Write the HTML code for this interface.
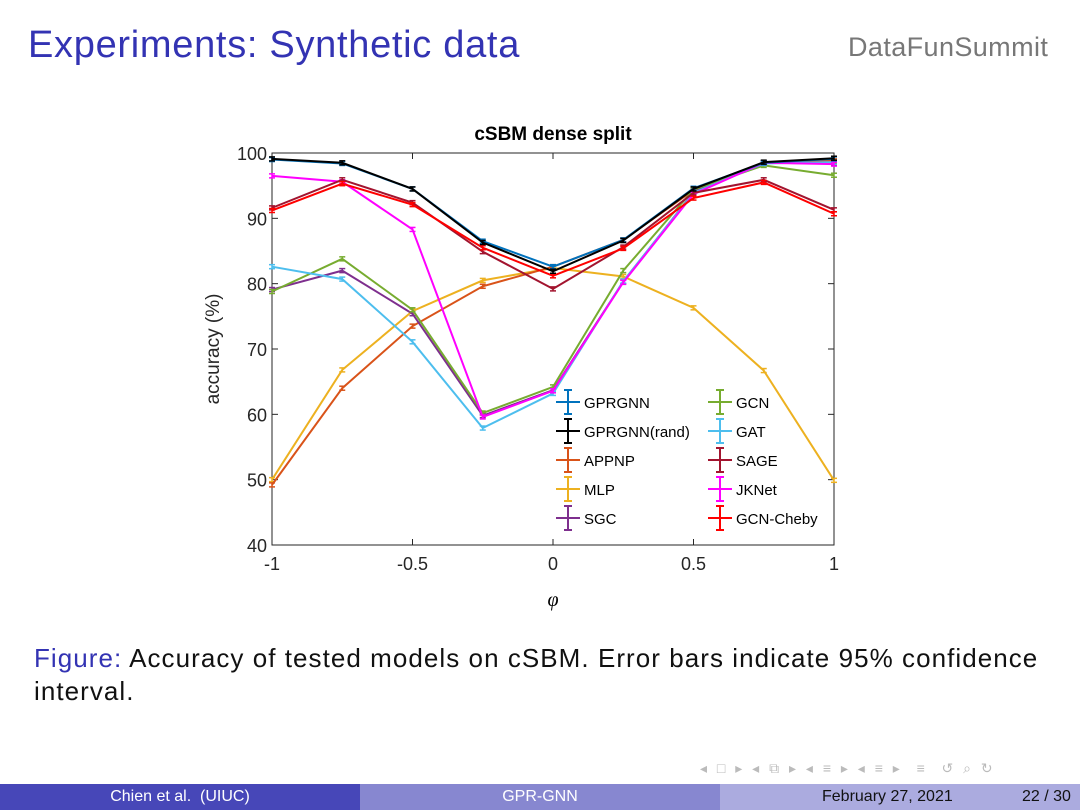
<!DOCTYPE html>
<html><head><meta charset="utf-8"><style>
body{margin:0;width:1080px;height:810px;background:#fff;position:relative;overflow:hidden;font-family:"Liberation Sans","DejaVu Sans",sans-serif}
.abs{position:absolute}
</style></head><body>
<div class="abs" style="left:28px;top:24px;font-size:38px;color:#3333b3;letter-spacing:0.7px;">Experiments: Synthetic data</div>
<div class="abs" style="left:848px;top:32px;font-size:27px;color:#777;letter-spacing:0.4px;">DataFunSummit</div>
<svg class="abs" style="left:0;top:0" width="1080" height="780" id="chart">
<text x="553" y="140" text-anchor="middle" font-weight="bold" font-size="19">cSBM dense split</text>
<text transform="translate(219,349) rotate(-90)" text-anchor="middle" font-size="19" fill="#262626">accuracy (%)</text>
<text x="553" y="606" text-anchor="middle" font-size="20" font-style="italic" font-family="Liberation Serif,serif">φ</text>
</svg>
<div class="abs" style="left:34px;top:642px;font-size:26px;line-height:33px;color:#111;width:1046px;letter-spacing:1.05px;"><span style="color:#3333b3">Figure:</span> Accuracy of tested models on cSBM. Error bars indicate 95% confidence<br>interval.</div>
<div class="abs" style="left:700px;top:760px;font-size:14px;color:#bbb;letter-spacing:3px;">◂ □ ▸ ◂ ⧉ ▸ ◂ ≡ ▸ ◂ ≡ ▸ &nbsp;≡ &nbsp;↺ ⌕ ↻</div>
<div class="abs" style="left:0;top:784px;width:360px;height:26px;background:#4747b8;color:#fff;font-size:16px;text-align:center;line-height:26px;">Chien et al. &nbsp;(UIUC)</div>
<div class="abs" style="left:360px;top:784px;width:360px;height:26px;background:#8787d0;color:#fff;font-size:16px;text-align:center;line-height:26px;">GPR-GNN</div>
<div class="abs" style="left:720px;top:784px;width:360px;height:26px;background:#ababdf;color:#111;font-size:16px;line-height:26px;"><span style="position:absolute;left:102px">February 27, 2021</span><span style="position:absolute;left:302px">22 / 30</span></div>
<script>
const xs=[-1,-0.75,-0.5,-0.25,0,0.25,0.5,0.75,1];
const xTicks=[-1,-0.5,0,0.5,1];
const xTickLabels=["-1","-0.5","0","0.5","1"];
const yTicks=[40,50,60,70,80,90,100];
const seriesNames=["GPRGNN","GPRGNN(rand)","APPNP","MLP","SGC","GCN","GAT","SAGE","JKNet","GCN-Cheby"];
const gprgnn=[99.0,98.4,94.5,86.5,82.6,86.7,94.6,98.5,99.1];
const gprgnnRand=[99.1,98.5,94.5,86.3,81.9,86.6,94.5,98.6,99.2];
const appnp=[49.2,64.0,73.5,79.6,82.6,86.7,94.3,98.5,98.8];
const mlp=[50.0,66.8,75.8,80.5,82.4,81.1,76.3,66.7,49.9];
const sgc=[79.1,82.0,75.4,59.8,63.7,80.3,94.0,98.5,98.4];
const gcn=[78.8,83.8,76.0,60.2,64.2,82.0,94.4,98.1,96.6];
const gat=[82.6,80.7,71.1,57.9,63.2,80.4,93.9,98.4,98.6];
const sage=[91.6,95.9,92.4,84.9,79.2,85.6,93.9,95.9,91.3];
const jknet=[96.5,95.6,88.3,59.6,63.6,80.2,93.7,98.5,98.3];
const cheby=[91.2,95.3,92.1,85.5,81.2,85.4,93.1,95.5,90.7];
const seriesData=[gprgnn,gprgnnRand,appnp,mlp,sgc,gcn,gat,sage,jknet,cheby];
const colors=["#0072BD","#000000","#D95319","#EDB120","#7E2F8E","#77AC30","#4DBEEE","#A2142F","#FF00FF","#FF0000"];
const drawOrder=[3,2,4,5,6,8,7,9,0,1];
const L=272,R=834,T=153,B=545;
const xS=v=>L+(v+1)/2*(R-L);
const yS=v=>B-(v-40)/60*(B-T);
const svg=document.getElementById('chart');
const NS="http://www.w3.org/2000/svg";
function mk(t,a){const e=document.createElementNS(NS,t);for(const k in a)e.setAttribute(k,a[k]);svg.appendChild(e);return e;}
const box=mk('rect',{x:L,y:T,width:R-L,height:B-T,fill:'none',stroke:'#262626','stroke-width':1});


xTicks.forEach((v,i)=>{
  mk('line',{x1:xS(v),x2:xS(v),y1:B,y2:B-6,stroke:'#262626'});
  mk('line',{x1:xS(v),x2:xS(v),y1:T,y2:T+6,stroke:'#262626'});
  const t=mk('text',{x:xS(v),y:B+25,'text-anchor':'middle','font-size':18,fill:'#262626'});
  t.textContent=xTickLabels[i];
  
  
});
yTicks.forEach(v=>{
  mk('line',{x1:L,x2:L+6,y1:yS(v),y2:yS(v),stroke:'#262626'});
  mk('line',{x1:R,x2:R-6,y1:yS(v),y2:yS(v),stroke:'#262626'});
  const t=mk('text',{x:L-5,y:yS(v)+7,'text-anchor':'end','font-size':18,fill:'#262626'});
  t.textContent=v;
  
  
});
drawOrder.forEach(si=>{
  const d=seriesData[si],c=colors[si];
  const pl=mk('polyline',{points:d.map((v,i)=>xS(xs[i])+','+yS(v)).join(' '),fill:'none',stroke:c,'stroke-width':2});
  
  
  d.forEach((v,i)=>{
    const x=xS(xs[i]),y=yS(v);
    mk('line',{x1:x,x2:x,y1:y-2,y2:y+2,stroke:c,'stroke-width':1.5});
    mk('line',{x1:x-3,x2:x+3,y1:y-2,y2:y-2,stroke:c,'stroke-width':1.5});
    mk('line',{x1:x-3,x2:x+3,y1:y+2,y2:y+2,stroke:c,'stroke-width':1.5});
  });
});
const legOrder=[0,5,1,6,2,7,3,8,4,9];
legOrder.forEach((si,k)=>{
  const col=k%2,row=Math.floor(k/2);
  const x0=col?708:556,y=402+row*29,c=colors[si];
  const g=document.createElementNS(NS,'g');svg.appendChild(g);
  
  
  const a=(t,at)=>{const e=document.createElementNS(NS,t);for(const q in at)e.setAttribute(q,at[q]);g.appendChild(e);return e;};
  a('line',{x1:x0,x2:x0+24,y1:y,y2:y,stroke:c,'stroke-width':2});
  a('line',{x1:x0+12,x2:x0+12,y1:y-12,y2:y+12,stroke:c,'stroke-width':2});
  a('line',{x1:x0+8,x2:x0+16,y1:y-12,y2:y-12,stroke:c,'stroke-width':2});
  a('line',{x1:x0+8,x2:x0+16,y1:y+12,y2:y+12,stroke:c,'stroke-width':2});
  const t=a('text',{x:x0+28,y:y+6,'font-size':15,fill:'#000'});t.textContent=seriesNames[si];
});
</script>
</body></html>
